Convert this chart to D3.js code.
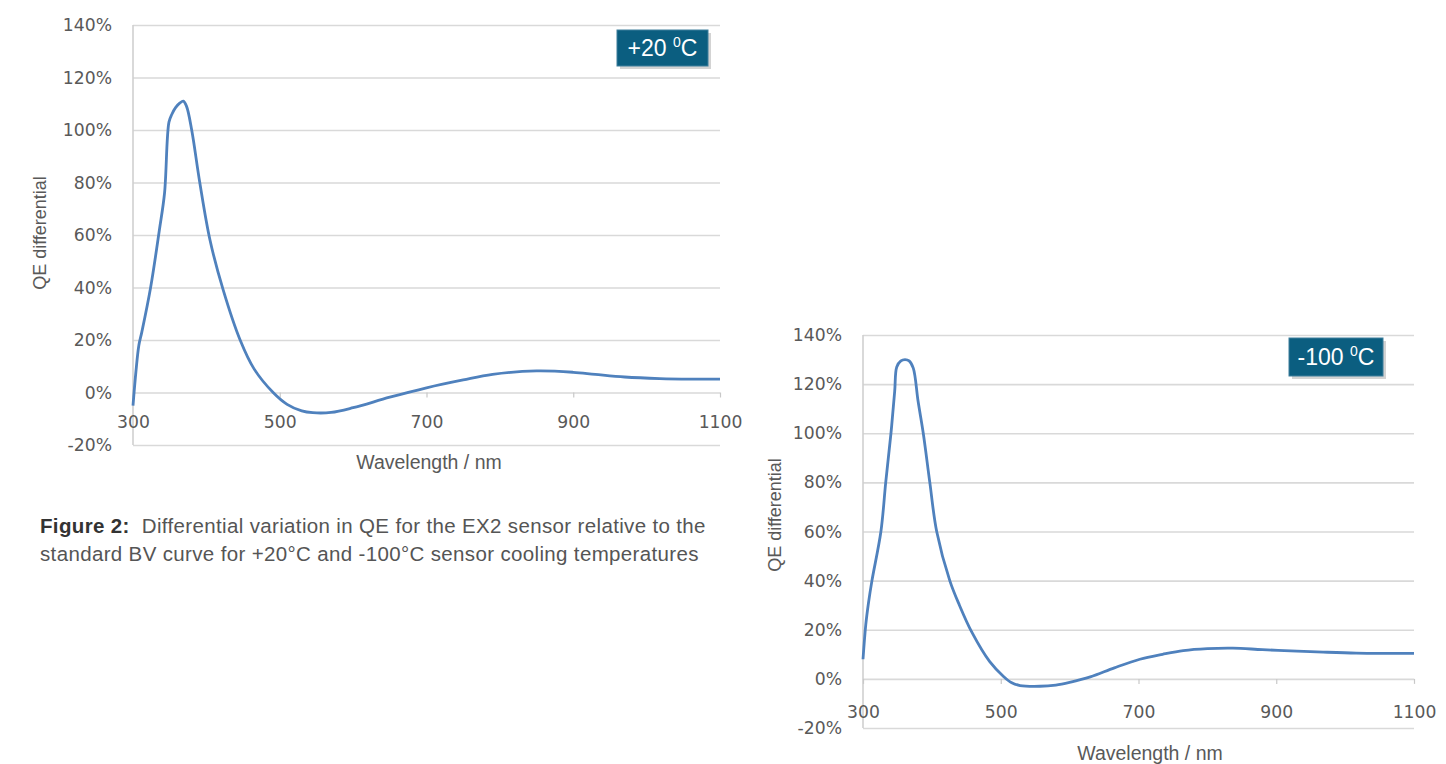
<!DOCTYPE html>
<html>
<head>
<meta charset="utf-8">
<script src="https://cdn.jsdelivr.net/npm/d3@7"></script>
<style>
  html, body { margin: 0; padding: 0; background: #ffffff; }
  svg { display: block; }
</style>
</head>
<body>
<svg id="fig" width="1446" height="764"></svg>
<script>
// ---------- data ----------
const xTicks = [300, 500, 700, 900, 1100];
const yTicks = [-20, 0, 20, 40, 60, 80, 100, 120, 140];
const xTitle = "Wavelength / nm";
const yTitle = "QE differential";

// +20 °C curve
const wl20 = [300, 304, 308, 312, 324, 336, 343, 349, 353, 358, 364, 368.5, 373, 380, 391, 405, 423, 446, 465, 491, 510, 530, 545, 570, 600, 650, 700, 750, 790, 850, 900, 930, 970, 1018, 1060, 1100];
const qe20 = [-5, 8, 18, 23, 40, 62, 76, 103, 106, 108.5, 110.3, 111, 109, 100, 80, 58, 39, 20, 9, 0, -4.5, -7, -7.7, -7.6, -5.8, -1.8, 1.8, 4.8, 6.9, 8.2, 7.7, 6.9, 5.9, 5.3, 5.1, 5.1];

// -100 °C curve
const wl100 = [300, 304, 308, 313, 326, 333, 340.6, 346, 349, 355, 361, 367, 373, 380, 387.5, 397, 407, 426, 440, 458, 484, 504, 516, 528, 557, 580, 600, 630, 665, 702, 735, 765, 800, 837, 880, 930, 968, 1016, 1060, 1100];
const qe100 = [8, 22, 31, 40, 60, 80, 100, 117, 127, 129.5, 130, 129.5, 126.5, 113, 100, 80, 60, 40, 30, 19, 7, 1, -1.6, -2.7, -3, -2.5, -1.4, 0.8, 4.5, 8, 10, 11.5, 12.3, 12.5, 11.9, 11.3, 10.9, 10.5, 10.4, 10.4];

const labels = ["+20 ", "-100 "];
const captionBold = "Figure 2:";
const captionLine1 = "  Differential variation in QE for the EX2 sensor relative to the";
const captionLine2 = "standard BV curve for +20°C and -100°C sensor cooling temperatures";

// ---------- drawing ----------
const svg = d3.select("#fig");
const tickFont = "'DejaVu Sans', sans-serif";
const titleFont = "'Liberation Sans', Arial, sans-serif";
const grey = "#595959";

function drawChart(cfg, wl, qe, label) {
  const x = d3.scaleLinear().domain([300, 1100]).range([cfg.left, cfg.right]);
  const y = d3.scaleLinear().domain([-20, 140]).range([cfg.bottom, cfg.top]);
  const g = svg.append("g");

  // gridlines
  g.append("g").call(d3.axisLeft(y).tickValues(yTicks).tickSize(-(cfg.right - cfg.left)).tickFormat(""))
    .attr("transform", `translate(${cfg.left},0)`)
    .call(s => s.select(".domain").remove())
    .call(s => s.selectAll("line").attr("stroke", "#d9d9d9").attr("stroke-width", 1.6));

  // y labels
  g.append("g").attr("transform", `translate(${cfg.left - 21},0)`)
    .call(d3.axisLeft(y).tickValues(yTicks).tickSize(0).tickPadding(0).tickFormat(d => d + "%"))
    .call(s => s.select(".domain").remove())
    .call(s => s.selectAll("text").attr("font-family", tickFont).attr("font-size", 17.2).attr("fill", grey));

  // vertical axis line
  g.append("line").attr("x1", cfg.left).attr("x2", cfg.left)
    .attr("y1", cfg.top).attr("y2", cfg.bottom)
    .attr("stroke", "#d0d0d0").attr("stroke-width", 1.6);

  // x axis at 0
  g.append("g").attr("transform", `translate(0,${y(0)})`)
    .call(d3.axisBottom(x).tickValues(xTicks).tickSize(5).tickPadding(cfg.xLabelPad).tickFormat(d3.format("d")))
    .call(s => s.select(".domain").remove())
    .call(s => s.selectAll("line").attr("stroke", "#c8c8c8").attr("stroke-width", 1.2))
    .call(s => s.selectAll("text").attr("font-family", tickFont).attr("font-size", 17.2).attr("fill", grey));

  // curve
  const line = d3.line().x((d, i) => x(wl[i])).y(d => y(d)).curve(d3.curveCatmullRom.alpha(0.5));
  g.append("path").attr("d", line(qe)).attr("fill", "none")
    .attr("stroke", "#4f81bd").attr("stroke-width", 2.8).attr("stroke-linejoin", "round");

  // titles
  g.append("text").attr("x", cfg.xTitleX).attr("y", cfg.xTitleY)
    .attr("text-anchor", "middle").attr("font-family", titleFont).attr("font-size", 19.5)
    .attr("fill", grey).text(xTitle);
  g.append("text").attr("transform", `translate(${cfg.yTitleX},${cfg.yTitleY}) rotate(-90)`)
    .attr("text-anchor", "middle").attr("dominant-baseline", "central")
    .attr("font-family", titleFont).attr("font-size", 18).attr("fill", grey).text(yTitle);

  // label box
  const b = cfg.box;
  g.append("rect").attr("x", b.x + 3).attr("y", b.y + 3).attr("width", b.w).attr("height", b.h)
    .attr("fill", "#c8c8c8").attr("opacity", 0.8);
  g.append("rect").attr("x", b.x).attr("y", b.y).attr("width", b.w).attr("height", b.h)
    .attr("fill", "#0b5e80").attr("stroke", "#3f7f9c").attr("stroke-width", 1);
  const t = g.append("text").attr("x", b.x + b.w / 2).attr("y", b.y + b.h / 2 + 8)
    .attr("text-anchor", "middle").attr("font-family", "'Liberation Sans Narrow', 'Liberation Sans', sans-serif")
    .attr("font-size", 23).attr("fill", "#ffffff");
  t.append("tspan").text(label);
  t.append("tspan").attr("font-size", 14).attr("dy", -9).text("0");
  t.append("tspan").attr("dy", 9).text("C");
}

drawChart({left: 133, right: 720, top: 25, bottom: 445, xLabelPad: 18,
           xTitleX: 429, xTitleY: 469, yTitleX: 40, yTitleY: 233,
           box: {x: 617, y: 30, w: 91, h: 36}}, wl20, qe20, labels[0]);
drawChart({left: 863, right: 1414, top: 335, bottom: 728, xLabelPad: 22,
           xTitleX: 1150, xTitleY: 760, yTitleX: 775, yTitleY: 515,
           box: {x: 1289, y: 338, w: 94, h: 38}}, wl100, qe100, labels[1]);

// caption
const capFont = "'Liberation Sans', Arial, sans-serif";
const cap = svg.append("text").attr("x", 40).attr("y", 533)
  .attr("font-family", capFont).attr("font-size", 20.5).attr("letter-spacing", 0.35).attr("fill", "#555");
cap.append("tspan").attr("font-weight", "bold").attr("fill", "#333").text(captionBold);
cap.append("tspan").style("white-space", "pre").text(captionLine1);
svg.append("text").attr("x", 40).attr("y", 561)
  .attr("font-family", capFont).attr("font-size", 20.5).attr("letter-spacing", 0.35).attr("fill", "#555")
  .text(captionLine2);
</script>
</body>
</html>
